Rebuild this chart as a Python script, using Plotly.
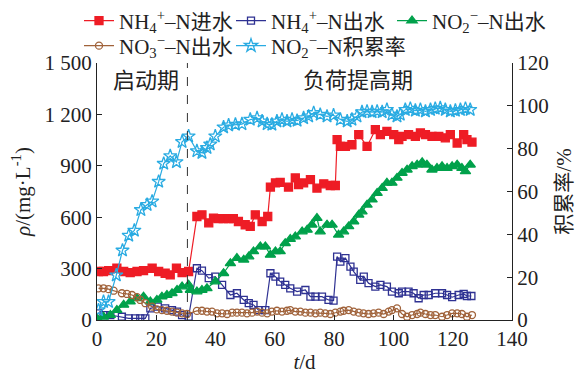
import plotly.graph_objects as go

# ---------------- data ----------------
nh4_in_days = [0.5, 2.2, 3.9, 6.7, 9.0, 11.2, 13.5, 15.7, 18.6, 20.8, 23.0, 24.7, 26.8, 28.7, 30.9,
               33.7, 35.4, 37.7, 39.3, 40.9, 42.6, 44.3, 46.0, 47.7, 50.0, 51.7, 53.4, 55.7, 57.6,
               58.5, 60.2, 61.8, 64.6, 66.9, 68.0, 69.7, 72.0, 74.2, 76.5, 78.7, 80.4,
               81.0, 82.1, 83.8, 86.0, 88.3, 91.1, 93.9, 95.6, 97.8, 100.1, 101.8, 102.9, 105.1,
               107.4, 109.1, 110.8, 113.0, 115.3, 117.5, 119.2, 121.5, 123.7, 124.8, 126.5]
nh4_in = [283, 283, 288, 302, 283, 277, 283, 288, 302, 283, 273, 263, 302, 277, 283,
          604, 614, 567, 595, 592, 592, 592, 592, 575, 556, 546, 614, 575, 604,
          776, 800, 803, 776, 829, 790, 800, 819, 770, 795, 785, 785,
          1053, 1013, 1013, 1023, 1082, 1013, 1111, 1082, 1101, 1082, 1053, 1072, 1082,
          1072, 1092, 1082, 1072, 1072, 1063, 1082, 1033, 1082, 1053, 1038]

nh4_out_days = [0.5, 2.2, 4.5, 8.4, 10.7, 12.9, 14.6, 16.3, 18.0, 20.5, 23.0, 25.3, 27.0, 28.7, 30.9,
                33.7, 35.4, 37.7, 39.9, 42.2, 45.0, 47.2, 49.5, 51.2, 52.8, 54.5, 56.8,
                58.5, 60.2, 61.8, 63.5, 65.2, 67.5, 70.3, 72.0, 73.7, 75.9, 78.1, 79.8,
                81.0, 82.1, 83.8, 85.5, 86.6, 88.8, 90.0, 91.6, 93.9, 95.6, 97.8, 99.5, 101.8,
                102.9, 105.1, 106.8, 108.5, 110.2, 111.9, 114.1, 116.4, 118.1, 119.8, 122.0,
                123.7, 124.8, 126.3]
nh4_out = [39, 29, 29, 19, 10, 10, 10, 10, 68, 78, 68, 58, 49, 29, 19,
           302, 288, 244, 253, 205, 146, 156, 117, 98, 88, 58, 58,
           273, 253, 224, 205, 185, 166, 175, 136, 136, 136, 117, 113,
           370, 341, 361, 312, 282, 234, 253, 215, 195, 205, 195, 166, 156,
           166, 166, 156, 127, 146, 146, 156, 156, 146, 133, 146,
           152, 140, 140]

no2_out_days = [0.0, 2.2, 4.5, 6.7, 9.0, 11.2, 13.5, 15.7, 18.0, 20.2, 21.9, 23.6, 25.3, 27.0, 28.7,
                30.9, 31.5, 33.7, 35.4, 37.1, 39.9, 42.7, 45.0, 47.2, 49.5, 51.2, 52.8, 55.1,
                56.8, 58.5, 60.2, 61.8, 63.5, 65.2, 66.9, 69.2, 70.9, 72.5, 74.2, 75.3, 77.6,
                79.3, 81.5, 83.2, 84.9, 86.6, 88.3, 89.4, 91.1, 92.8, 94.5, 96.2, 97.8, 99.5,
                101.2, 102.9, 104.6, 106.3, 108.0, 109.7, 111.3, 113.0, 114.7, 116.4, 118.1,
                119.8, 121.5, 123.1, 124.3, 125.9]
no2_out = [10, 19, 29, 58, 88, 107, 127, 136, 107, 117, 136, 146, 156, 175, 195,
           205, 175, 166, 175, 185, 224, 273, 331, 361, 351, 370, 400, 429,
           429, 380, 400, 400, 448, 472, 487, 516, 526, 556, 595, 516, 556,
           556, 497, 516, 546, 575, 614, 633, 672, 702, 741, 770, 800, 800,
           829, 858, 877, 897, 906, 920, 906, 877, 887, 897, 887,
           897, 906, 887, 867, 906]

no3_out_days = [0.5, 2.2, 3.9, 5.6, 8.4, 10.1, 11.8, 13.5, 14.6, 16.3, 18.6, 20.2, 21.9, 23.6, 25.3,
                27.0, 28.7, 30.4, 33.7, 35.4, 37.1, 38.8, 40.5, 42.2, 43.9, 45.6, 47.2, 48.9,
                50.6, 52.3, 54.0, 55.7, 57.4, 59.0, 60.7, 62.4, 64.1, 65.2, 66.9, 68.6, 70.3,
                72.0, 73.7, 75.3, 77.0, 78.7, 80.4, 82.1, 83.2, 84.9, 86.6, 88.3, 89.9, 91.6,
                93.3, 95.0, 96.7, 98.4, 99.5, 101.2, 102.9, 104.6, 106.3, 108.0, 109.1, 110.8,
                112.5, 114.1, 116.4, 118.1, 119.8, 121.5, 123.1, 124.8, 126.5]
no3_out = [185, 185, 180, 171, 156, 152, 146, 133, 117, 98, 78, 62, 58, 54, 49,
           43, 39, 35, 53, 54, 49, 49, 39, 39, 35, 43, 43, 43,
           39, 43, 49, 43, 39, 49, 54, 49, 54, 58, 49, 49, 43,
           43, 39, 43, 39, 35, 43, 49, 54, 58, 49, 43, 39, 35,
           39, 43, 35, 49, 58, 68, 35, 19, 29, 35, 43, 35,
           29, 29, 19, 29, 39, 39, 35, 19, 29]

acc_days = [0.5, 2.2, 3.9, 6.5, 8.6, 10.7, 12.6, 14.8, 16.9, 18.6, 20.8, 22.5, 24.7, 26.8, 28.7,
            30.9, 33.7, 35.4, 37.1, 38.2, 39.9, 42.7, 44.4, 46.7, 48.9, 51.7, 54.0, 55.7,
            57.4, 59.0, 60.7, 62.4, 64.1, 65.8, 67.5, 69.7, 71.4, 73.1, 75.3, 77.6, 79.8,
            82.1, 84.4, 86.0, 87.7, 89.4, 91.1, 92.8, 94.5, 96.2, 97.8, 99.5, 101.2, 102.3,
            104.0, 105.7, 107.4, 109.1, 110.8, 112.5, 114.1, 115.8, 117.5, 119.2, 120.9,
            122.6, 124.3, 125.9]
acc_rate = [4.6, 8.5, 8.5, 20.9, 32.5, 39.4, 41.8, 51.4, 53.8, 55.4, 64.6, 73.0, 76.6, 73.8, 83.2,
            85.8, 78.9, 78.1, 80.4, 82.0, 85.8, 90.0, 90.9, 91.3, 91.5, 93.6, 94.3, 92.8,
            91.5, 91.3, 92.8, 93.6, 92.8, 93.6, 93.1, 94.3, 95.1, 96.7, 95.9, 95.1, 95.6,
            93.6, 92.8, 93.6, 95.1, 97.1, 97.4, 97.1, 97.4, 97.1, 98.2, 95.9, 95.1, 95.9,
            98.2, 98.7, 97.8, 98.2, 97.4, 98.2, 98.7, 99.0, 98.2, 97.4, 97.8,
            98.2, 98.7, 98.2]

left_ticks = [0, 300, 600, 900, 1200, 1500]
left_ticklabels = ["0", "300", "600", "900", "1 200", "1 500"]
phase_split_day = 30.5

# ---------------- figure ----------------
FONT = "Liberation Serif, Times New Roman, Noto Sans CJK SC, serif"
LW = 1.2
# the page body adds an 8 px offset; the figure is sized so the plot area lands where the reference has it
W, H = 579, 368
ML, MT, PW, PH = 89, 55, 415, 257

fig = go.Figure()

series = [
    (nh4_in_days, nh4_in, "NH<sub>4</sub><sup>+</sup>–N进水", "#EE1C25", "square", 8, "y", "legend"),
    (nh4_out_days, nh4_out, "NH<sub>4</sub><sup>+</sup>–N出水", "#2E3192", "square-open", 7, "y", "legend2"),
    (no2_out_days, no2_out, "NO<sub>2</sub><sup>−</sup>–N出水", "#00A14B", "triangle-up", 9, "y", "legend3"),
    (no3_out_days, no3_out, "NO<sub>3</sub><sup>−</sup>–N出水", "#A0623A", "circle-open", 7, "y", "legend4"),
    (acc_days, acc_rate, "NO<sub>2</sub><sup>−</sup>–N积累率", "#29ABE2", "star-open", 10, "y2", "legend5"),
]
for xs, ys, name, col, sym, sz, yax, lg in series:
    fig.add_trace(go.Scatter(
        x=xs, y=ys, name=name, yaxis=yax, legend=lg,
        mode="lines+markers",
        line=dict(color=col, width=LW),
        marker=dict(symbol=sym, size=sz, color=col, line=dict(color=col, width=1.3)),
    ))

def legend_at(px, py):
    # px, py: legend box left edge / vertical centre, in figure pixels
    return dict(x=(px - ML) / PW, y=(MT + PH - py) / PH, xanchor="left", yanchor="middle",
                bgcolor="rgba(0,0,0,0)", font=dict(family=FONT, size=21, color="#222"),
                itemwidth=30, tracegroupgap=0)

fig.update_layout(
    width=W, height=H,
    margin=dict(l=ML, r=W - ML - PW, t=MT, b=H - MT - PH, autoexpand=False),
    paper_bgcolor="white", plot_bgcolor="white",
    font=dict(family=FONT, size=21, color="#222"),
    showlegend=True,
    legend=legend_at(71, 13),
    legend2=legend_at(223, 13),
    legend3=legend_at(384, 13),
    legend4=legend_at(71, 38),
    legend5=legend_at(223, 38),
    xaxis=dict(range=[0, 140], dtick=20, tick0=0, showline=True, linecolor="#222", linewidth=1,
               ticks="inside", ticklen=5, tickcolor="#222", showgrid=False, zeroline=False,
               title=dict(text="<i>t</i>/d", font=dict(size=21), standoff=4),
               tickfont=dict(size=21)),
    yaxis=dict(range=[0, 1500], tickvals=left_ticks, ticktext=left_ticklabels,
               showline=True, linecolor="#222", linewidth=1, ticks="inside", ticklen=5,
               tickcolor="#222", showgrid=False, zeroline=False,
               title=dict(text="<i>ρ</i>/(mg·L<sup>-1</sup>)", font=dict(size=21), standoff=16),
               tickfont=dict(size=21)),
    yaxis2=dict(range=[0, 120], dtick=20, overlaying="y", side="right", anchor="x",
                showline=True, linecolor="#222", linewidth=1, ticks="inside", ticklen=5,
                tickcolor="#222", showgrid=False, zeroline=False,
                title=dict(text="积累率/%", font=dict(size=21), standoff=8),
                tickfont=dict(size=21)),
    shapes=[dict(type="line", xref="x", yref="paper", x0=phase_split_day, x1=phase_split_day,
                 y0=0, y1=1, line=dict(color="#333", width=1, dash="dash"))],
    annotations=[
        dict(text="启动期", x=16.5, y=1400, xref="x", yref="y", showarrow=False,
             font=dict(family=FONT, size=22, color="#222")),
        dict(text="负荷提高期", x=88, y=1400, xref="x", yref="y", showarrow=False,
             font=dict(family=FONT, size=22, color="#222")),
    ],
)

fig.write_html("out.html")
